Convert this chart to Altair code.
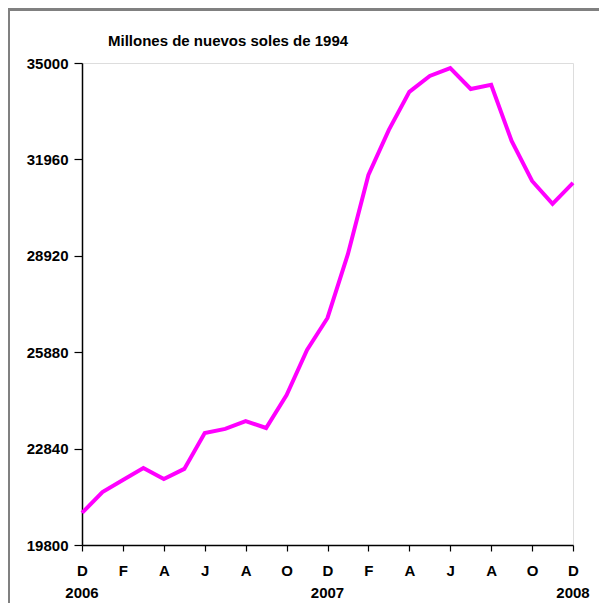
import altair as alt
import pandas as pd

month_index = list(range(25))
month_letters = ["D", "E", "F", "M", "A", "M", "J", "J", "A", "S", "O", "N",
                 "D", "E", "F", "M", "A", "M", "J", "J", "A", "S", "O", "N", "D"]
values = [20810, 21470, 21850, 22230, 21880, 22200, 23330, 23460, 23710, 23490,
          24530, 25950, 26960, 28980, 31470, 32890, 34090, 34590, 34840, 34180,
          34310, 32540, 31280, 30560, 31220]
y_ticks = [19800, 22840, 25880, 28920, 31960, 35000]
year_pos = [0, 12, 24]
year_labels = ["2006", "2007", "2008"]
title_text = "Millones de nuevos soles de 1994"

df = pd.DataFrame({"m": month_index, "v": values, "lab": month_letters})
years = pd.DataFrame({"m": year_pos, "year": year_labels})

W, H = 491, 482
FONT = "Liberation Sans"

letters_js = "[" + ",".join("'%s'" % l for l in month_letters) + "]"

x_scale = alt.Scale(domain=[0, 24], nice=False, zero=False)
y_scale = alt.Scale(domain=[19800, 35000], nice=False, zero=False)

line = alt.Chart(df).mark_line(color="#FF00FF", strokeWidth=4, strokeJoin="miter").encode(
    x=alt.X("m:Q", scale=x_scale,
            axis=alt.Axis(values=month_index, title=None, grid=False,
                          labelExpr="datum.value % 2 == 0 ? " + letters_js + "[datum.value] : ''",
                          labelFont=FONT, labelFontSize=15, labelFontWeight="bold",
                          labelColor="black", labelPadding=12, tickSize=6,
                          tickColor="black", domainColor="black", domainWidth=1.5,
                          tickWidth=1.2, labelFlush=False, labelOverlap=False)),
    y=alt.Y("v:Q", scale=y_scale,
            axis=alt.Axis(values=y_ticks, title=None, grid=False, format="d",
                          labelFont=FONT, labelFontSize=15, labelFontWeight="bold",
                          labelColor="black", labelPadding=6, tickSize=8,
                          tickColor="black", domainColor="black", domainWidth=1.5,
                          tickWidth=1.2, labelFlush=False, labelOverlap=False)),
)

year_text = alt.Chart(years).mark_text(
    font=FONT, fontSize=15, fontWeight="bold", color="black", baseline="middle", align="center"
).encode(
    x=alt.X("m:Q", scale=x_scale),
    y=alt.value(H + 48),
    text="year:N",
)

title = alt.Chart(pd.DataFrame({"t": [title_text]})).mark_text(
    font=FONT, fontSize=15, fontWeight="bold", color="black", baseline="middle", align="left"
).encode(
    x=alt.value(26),
    y=alt.value(-22),
    text="t:N",
)

frame = pd.DataFrame({"x1": [-74, -74], "x2": [W + 26, -72], "y1": [-55, -55], "y2": [-52, H + 58]})
bands = alt.Chart(frame).mark_rect(color="#808080").encode(
    x=alt.X("x1:Q", scale=None), x2="x2",
    y=alt.Y("y1:Q", scale=None), y2="y2",
)

chart = alt.layer(bands, line, year_text, title).properties(
    width=W, height=H,
    autosize=alt.AutoSizeParams(type="none"),
    padding={"left": 74, "top": 55, "right": 26, "bottom": 58},
).configure_view(stroke="black", strokeWidth=1.5).configure(background="white")

chart.save("out.html", embed_options={"renderer": "svg", "actions": False})
